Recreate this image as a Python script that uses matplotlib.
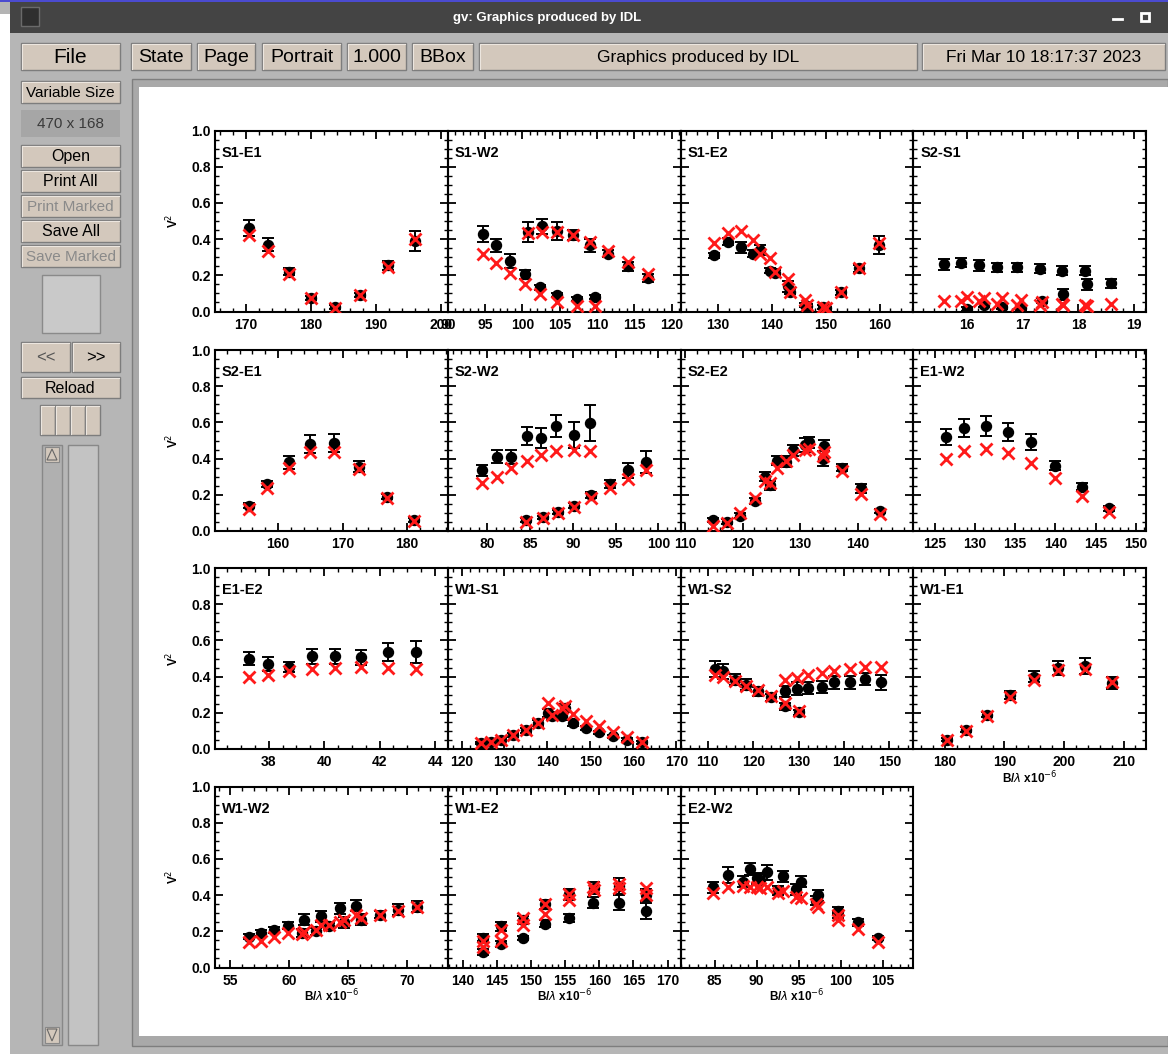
import matplotlib
matplotlib.use("Agg")
import matplotlib.pyplot as plt
from matplotlib.patches import Rectangle, Polygon
from matplotlib.ticker import FixedLocator, MultipleLocator

# --- data: squared visibilities (black) and model (red) per baseline ---
s1e1_x = [170.4, 173.3, 176.6, 180.0, 183.7, 187.6, 191.9, 196.1]
s1e1_v2 = [0.46, 0.37, 0.22, 0.075, 0.025, 0.09, 0.255, 0.39]
s1e1_err = [0.045, 0.035, 0.02, 0.01, 0.01, 0.012, 0.025, 0.055]
s1e1_mod = [0.42, 0.335, 0.205, 0.075, 0.02, 0.09, 0.248, 0.40]

s1w2_x = [94.7, 96.4, 98.3, 100.3, 102.4, 104.7, 107.3, 109.7,
          100.7, 102.6, 104.7, 106.8, 109.1, 111.5, 114.2, 116.8]
s1w2_v2 = [0.43, 0.365, 0.28, 0.205, 0.133, 0.09, 0.068, 0.08,
           0.44, 0.47, 0.445, 0.423, 0.365, 0.32, 0.25, 0.185]
s1w2_err = [0.045, 0.035, 0.04, 0.025, 0.015, 0.012, 0.01, 0.012,
            0.055, 0.04, 0.05, 0.03, 0.035, 0.02, 0.025, 0.02]
s1w2_mod = [0.32, 0.27, 0.21, 0.15, 0.096, 0.054, 0.028, 0.03,
            0.433, 0.44, 0.44, 0.423, 0.386, 0.335, 0.275, 0.207]

s1e2_x = [129.3, 131.8, 134.3, 136.5, 137.8, 139.6, 140.6, 143.0,
          143.4, 146.2, 146.6, 149.4, 150.1, 152.8, 156.2, 159.9]
s1e2_v2 = [0.31, 0.385, 0.355, 0.32, 0.34, 0.225, 0.215, 0.14,
           0.11, 0.035, 0.03, 0.026, 0.017, 0.105, 0.238, 0.368]
s1e2_err = [0.015, 0.02, 0.03, 0.02, 0.03, 0.015, 0.015, 0.03,
            0.015, 0.012, 0.01, 0.01, 0.01, 0.012, 0.02, 0.05]
s1e2_mod = [0.38, 0.432, 0.442, 0.396, 0.32, 0.298, 0.218, 0.178,
            0.11, 0.063, 0.035, 0.026, 0.017, 0.105, 0.238, 0.377]

s2s1_x = [15.58, 15.88, 16.21, 16.54, 16.9, 17.3, 17.7, 18.12, 18.59,
          16.0, 16.3, 16.63, 16.96, 17.34, 17.73, 18.16]
s2s1_v2 = [0.26, 0.27, 0.255, 0.245, 0.245, 0.235, 0.225, 0.225, 0.155,
           0.015, 0.035, 0.025, 0.02, 0.06, 0.095, 0.15]
s2s1_err = [0.03, 0.025, 0.03, 0.025, 0.025, 0.025, 0.025, 0.025, 0.025,
            0.01, 0.012, 0.01, 0.01, 0.015, 0.03, 0.03]
s2s1_mod = [0.057, 0.057, 0.057, 0.044, 0.035, 0.035, 0.04, 0.035, 0.04,
            0.081, 0.076, 0.072, 0.063, 0.05, 0.035, 0.03]

s2e1_x = [155.4, 158.3, 161.6, 165.0, 168.6, 172.6, 176.8, 181.1]
s2e1_v2 = [0.14, 0.26, 0.38, 0.48, 0.484, 0.355, 0.19, 0.06]
s2e1_err = [0.012, 0.015, 0.035, 0.05, 0.05, 0.03, 0.015, 0.012]
s2e1_mod = [0.12, 0.235, 0.35, 0.435, 0.435, 0.345, 0.185, 0.055]

s2w2_x = [79.4, 81.1, 82.8, 84.6, 86.3, 88.1, 90.1, 92.0,
          84.5, 86.5, 88.3, 90.2, 92.1, 94.3, 96.4, 98.5]
s2w2_v2 = [0.335, 0.41, 0.41, 0.525, 0.512, 0.58, 0.53, 0.595,
           0.06, 0.075, 0.105, 0.14, 0.2, 0.26, 0.335, 0.38]
s2w2_err = [0.03, 0.035, 0.04, 0.05, 0.055, 0.06, 0.07, 0.1,
            0.01, 0.01, 0.012, 0.015, 0.015, 0.02, 0.04, 0.06]
s2w2_mod = [0.263, 0.30, 0.346, 0.385, 0.42, 0.44, 0.45, 0.44,
            0.05, 0.07, 0.1, 0.135, 0.185, 0.235, 0.285, 0.335]

s2e2_x = [114.9, 117.2, 119.6, 122.2, 123.8, 124.7, 126.0, 127.6,
          128.8, 130.8, 131.6, 133.9, 134.1, 137.3, 140.6, 143.9]
s2e2_v2 = [0.061, 0.052, 0.085, 0.166, 0.30, 0.254, 0.389, 0.383,
           0.447, 0.475, 0.49, 0.40, 0.471, 0.35, 0.236, 0.11]
s2e2_err = [0.01, 0.012, 0.012, 0.015, 0.025, 0.025, 0.025, 0.03,
            0.03, 0.04, 0.03, 0.04, 0.03, 0.02, 0.025, 0.012]
s2e2_mod = [0.028, 0.046, 0.098, 0.184, 0.276, 0.263, 0.35, 0.389,
            0.42, 0.447, 0.453, 0.414, 0.435, 0.33, 0.203, 0.092]

e1w2_x = [126.4, 128.7, 131.4, 134.1, 137.0, 140.0, 143.3, 146.7]
e1w2_v2 = [0.521, 0.571, 0.582, 0.549, 0.49, 0.361, 0.245, 0.125]
e1w2_err = [0.045, 0.05, 0.055, 0.05, 0.045, 0.025, 0.02, 0.012]
e1w2_mod = [0.40, 0.442, 0.453, 0.433, 0.374, 0.295, 0.193, 0.107]

e1e2_x = [37.27, 37.96, 38.73, 39.55, 40.39, 41.31, 42.3, 43.3]
e1e2_v2 = [0.499, 0.47, 0.453, 0.512, 0.512, 0.506, 0.534, 0.534]
e1e2_err = [0.035, 0.04, 0.03, 0.04, 0.04, 0.04, 0.05, 0.06]
e1e2_mod = [0.398, 0.41, 0.429, 0.442, 0.447, 0.451, 0.447, 0.442]

w1s1_x = [124.6, 126.9, 129.2, 131.9, 135.0, 137.9, 140.2, 141.1,
          143.3, 144.2, 145.9, 149.0, 152.1, 155.3, 158.6, 162.1]
w1s1_v2 = [0.033, 0.039, 0.052, 0.079, 0.103, 0.144, 0.199, 0.18,
           0.18, 0.227, 0.144, 0.116, 0.092, 0.07, 0.052, 0.037]
w1s1_err = [0.008, 0.008, 0.008, 0.01, 0.012, 0.015, 0.02, 0.02,
            0.02, 0.02, 0.015, 0.012, 0.01, 0.01, 0.008, 0.008]
w1s1_mod = [0.033, 0.039, 0.052, 0.079, 0.103, 0.144, 0.254, 0.19,
            0.227, 0.24, 0.195, 0.153, 0.125, 0.092, 0.066, 0.04]

w1s2_x = [111.5, 113.4, 116.0, 118.5, 121.1, 123.9, 127.0, 130.1,
          127.0, 129.6, 132.1, 135.1, 137.9, 141.3, 144.7, 148.1]
w1s2_v2 = [0.442, 0.429, 0.383, 0.355, 0.319, 0.285, 0.236, 0.203,
           0.319, 0.333, 0.337, 0.343, 0.368, 0.368, 0.387, 0.368]
w1s2_err = [0.045, 0.04, 0.03, 0.03, 0.025, 0.02, 0.02, 0.015,
            0.03, 0.035, 0.035, 0.035, 0.035, 0.035, 0.035, 0.04]
w1s2_mod = [0.41, 0.398, 0.374, 0.35, 0.324, 0.291, 0.254, 0.208,
            0.38, 0.392, 0.407, 0.42, 0.433, 0.442, 0.453, 0.453]

w1e1_x = [180.3, 183.6, 187.1, 190.9, 195.0, 199.0, 203.5, 208.1]
w1e1_v2 = [0.052, 0.107, 0.19, 0.298, 0.40, 0.447, 0.457, 0.365]
w1e1_err = [0.01, 0.012, 0.015, 0.02, 0.03, 0.04, 0.045, 0.035]
w1e1_mod = [0.048, 0.098, 0.184, 0.285, 0.38, 0.438, 0.442, 0.368]

w1w2_x = [56.57, 57.57, 58.71, 59.94, 61.29, 61.14, 62.29, 62.71,
          63.43, 64.29, 64.71, 65.66, 66.14, 67.71, 69.29, 70.86]
w1w2_v2 = [0.171, 0.19, 0.208, 0.232, 0.263, 0.19, 0.2, 0.282,
           0.227, 0.328, 0.25, 0.341, 0.263, 0.291, 0.319, 0.337]
w1w2_err = [0.015, 0.015, 0.015, 0.02, 0.03, 0.02, 0.02, 0.03,
            0.02, 0.03, 0.03, 0.03, 0.03, 0.02, 0.03, 0.03]
w1w2_mod = [0.14, 0.149, 0.166, 0.19, 0.195, 0.185, 0.208, 0.236,
            0.236, 0.254, 0.26, 0.291, 0.276, 0.291, 0.31, 0.337]

w1e2_x = [143.0, 143.0, 145.65, 145.65, 148.8, 148.8, 152.0, 152.0,
          155.6, 155.6, 159.0, 159.2, 162.9, 162.9, 166.9, 166.9]
w1e2_v2 = [0.165, 0.085, 0.227, 0.131, 0.162, 0.263, 0.241, 0.35,
           0.273, 0.405, 0.359, 0.44, 0.359, 0.45, 0.313, 0.40]
w1e2_err = [0.02, 0.015, 0.025, 0.015, 0.012, 0.02, 0.02, 0.025,
            0.02, 0.03, 0.03, 0.035, 0.04, 0.045, 0.045, 0.035]
w1e2_mod = [0.145, 0.115, 0.208, 0.144, 0.236, 0.273, 0.295, 0.35,
            0.374, 0.405, 0.447, 0.43, 0.46, 0.438, 0.438, 0.40]

e2w2_x = [84.8, 86.6, 88.4, 89.2, 90.0, 90.4, 91.2, 92.5, 93.1,
          94.7, 95.3, 97.3, 97.1, 99.7, 99.7, 102.1, 104.4]
e2w2_v2 = [0.442, 0.512, 0.475, 0.545, 0.494, 0.486, 0.525, 0.424, 0.503,
           0.433, 0.475, 0.40, 0.368, 0.313, 0.29, 0.25, 0.162]
e2w2_err = [0.03, 0.045, 0.03, 0.035, 0.03, 0.03, 0.04, 0.025, 0.03,
            0.03, 0.03, 0.03, 0.025, 0.02, 0.015, 0.02, 0.012]
e2w2_mod = [0.414, 0.442, 0.453, 0.447, 0.447, 0.438, 0.447, 0.41, 0.424,
            0.387, 0.383, 0.337, 0.35, 0.263, 0.29, 0.212, 0.14]

baselines = ["S1-E1", "S1-W2", "S1-E2", "S2-S1",
             "S2-E1", "S2-W2", "S2-E2", "E1-W2",
             "E1-E2", "W1-S1", "W1-S2", "W1-E1",
             "W1-W2", "W1-E2", "E2-W2"]
series = [
    (s1e1_x, s1e1_v2, s1e1_err, s1e1_mod), (s1w2_x, s1w2_v2, s1w2_err, s1w2_mod),
    (s1e2_x, s1e2_v2, s1e2_err, s1e2_mod), (s2s1_x, s2s1_v2, s2s1_err, s2s1_mod),
    (s2e1_x, s2e1_v2, s2e1_err, s2e1_mod), (s2w2_x, s2w2_v2, s2w2_err, s2w2_mod),
    (s2e2_x, s2e2_v2, s2e2_err, s2e2_mod), (e1w2_x, e1w2_v2, e1w2_err, e1w2_mod),
    (e1e2_x, e1e2_v2, e1e2_err, e1e2_mod), (w1s1_x, w1s1_v2, w1s1_err, w1s1_mod),
    (w1s2_x, w1s2_v2, w1s2_err, w1s2_mod), (w1e1_x, w1e1_v2, w1e1_err, w1e1_mod),
    (w1w2_x, w1w2_v2, w1w2_err, w1w2_mod), (w1e2_x, w1e2_v2, w1e2_err, w1e2_mod),
    (e2w2_x, e2w2_v2, e2w2_err, e2w2_mod),
]

# x axis ticks (labels) per panel
xticks = [[170, 180, 190, 200], [90, 95, 100, 105, 110, 115, 120],
          [130, 140, 150, 160], [16, 17, 18, 19],
          [160, 170, 180], [80, 85, 90, 95, 100],
          [110, 120, 130, 140], [125, 130, 135, 140, 145, 150],
          [38, 40, 42, 44], [120, 130, 140, 150, 160, 170],
          [110, 120, 130, 140, 150], [180, 190, 200, 210],
          [55, 60, 65, 70], [140, 145, 150, 155, 160, 165, 170],
          [85, 90, 95, 100, 105]]
yticks = [0.0, 0.2, 0.4, 0.6, 0.8, 1.0]

# axis ranges / minor tick steps (layout)
xlims = [(165.2, 201.1), (90.0, 121.2), (123.0, 166.3), (15.03, 19.22),
         (150.2, 186.3), (75.4, 102.6), (109.2, 149.7), (122.35, 151.3),
         (36.06, 44.46), (116.8, 171.0), (104.0, 155.3), (174.7, 213.8),
         (53.7, 73.5), (137.8, 171.9), (80.95, 108.65)]
xminor = [2, 1, 2, 0.2, 2, 1, 2, 1, 0.5, 2, 2, 2, 1, 1, 1]

W, H = 1168, 1054
fig = plt.figure(figsize=(W / 100, H / 100), dpi=100)
fig.patch.set_facecolor("white")

# ---------- window chrome ----------
bg = fig.add_axes([0, 0, 1, 1])
bg.set_xlim(0, W)
bg.set_ylim(H, 0)
bg.axis("off")

GUI_FONT = ["Liberation Sans", "DejaVu Sans"]
BTN_FC = "#d3c8bc"


def rect(x0, y0, x1, y1, fc, ec="none", lw=1.0):
    bg.add_patch(Rectangle((x0, y0), x1 - x0, y1 - y0, fc=fc, ec=ec, lw=lw))


def button(x0, y0, x1, y1, label, size, color="black"):
    rect(x0, y0, x1, y1, BTN_FC, "#7d7d7d", 1.0)
    bg.plot([x0 + 1, x0 + 1, x1 - 1], [y1 - 1, y0 + 1, y0 + 1], color="#ece6df", lw=0.8)
    if label:
        bg.text((x0 + x1) / 2, (y0 + y1) / 2 + 1, label, ha="center", va="center",
                fontsize=size, color=color, family=GUI_FONT)


rect(0, 0, W, H, "white")
rect(0, 0, 10, 14, "#b4b4b4")
rect(10, 2, W, H, "#b6b6b6")
rect(0, 0, W, 2, "#4b4bd0")
rect(10, 2, W, 33, "#444444")
rect(21, 7, 39, 26, "#2f2f2f", "#6a6a6a", 1.0)
bg.text(547, 18, "gv: Graphics produced by IDL", ha="center", va="center",
        color="white", fontsize=9.5, fontweight="bold",
        family=["Liberation Sans Narrow", "Liberation Sans", "DejaVu Sans"])
bg.plot([1113, 1122], [19, 19], color="white", lw=2)
rect(1141, 13, 1149, 21, "none", "white", 2)

# top buttons
button(21, 43, 120, 70, "File", 15)
button(131, 43, 191, 70, "State", 14)
button(197, 43, 255, 70, "Page", 14)
button(262, 43, 341, 70, "Portrait", 14)
button(347, 43, 406, 70, "1.000", 14)
button(412, 43, 473, 70, "BBox", 14)
button(479, 43, 917, 70, "Graphics produced by IDL", 12.5)
button(922, 43, 1165, 70, "Fri Mar 10 18:17:37 2023", 12.5)

# left column
button(21, 81, 120, 103, "Variable Size", 11)
rect(21, 110, 120, 137, "#a6a6a6")
bg.text(70.5, 124, "470 x 168", ha="center", va="center", fontsize=11,
        color="#3a3a3a", family=GUI_FONT)
button(21, 145, 120, 167, "Open", 11.5)
button(21, 170, 120, 192, "Print All", 11.5)
button(21, 195, 120, 217, "Print Marked", 11, color="#8a8a8a")
button(21, 220, 120, 242, "Save All", 11.5)
button(21, 245, 120, 267, "Save Marked", 11, color="#8a8a8a")
rect(42, 275, 100, 333, "#c9c9c9", "#8a8a8a", 1.0)
button(21, 342, 70, 372, "<<", 12, color="#555555")
button(72, 342, 120, 372, ">>", 12)
button(21, 377, 120, 398, "Reload", 11.5)
for bx in (40, 55, 70, 85):
    button(bx, 405, bx + 15, 435, "", 8)
rect(42, 445, 62, 1045, "#b0b0b0", "#888888", 1.0)
rect(45, 447, 59, 462, BTN_FC, "#888888", 0.8)
bg.add_patch(Polygon([[47, 460], [52, 449], [57, 460]], closed=True,
                     fc="none", ec="#666666", lw=0.8))
rect(45, 1027, 59, 1043, BTN_FC, "#888888", 0.8)
bg.add_patch(Polygon([[47, 1029], [52, 1041], [57, 1029]], closed=True,
                     fc="none", ec="#666666", lw=0.8))
rect(68, 445, 98, 1045, "#c3c3c3", "#888888", 1.0)

# page area
rect(132, 79, W, 1046, "#a9a9a9", "#7e7e7e", 1.0)
rect(139, 87, W, 1036, "white")

# ---------- plot panels ----------
plt.rcParams["font.family"] = ["Liberation Sans", "DejaVu Sans"]

col_left = [215.0, 447.8, 680.6, 913.4]
row_top = [130.5, 350.0, 568.0, 786.5]
pw, ph = 232.8, 181.0

for i, name in enumerate(baselines):
    r, c = divmod(i, 4)
    x0, y0 = col_left[c], row_top[r]
    ax = fig.add_axes([x0 / W, 1 - (y0 + ph) / H, pw / W, ph / H])
    ax.set_facecolor("none")
    bx, bv, be, bm = series[i]

    ax.errorbar(bx, bv, yerr=be, fmt="o", color="black", ms=7.2,
                elinewidth=1.4, capsize=4.3, capthick=1.4, zorder=3)
    ax.plot(bx, bm, "x", color="#ff1a1a", ms=8.0, mew=2.0, zorder=4)

    ax.set_xlim(*xlims[i])
    ax.set_ylim(0.0, 1.0)
    ax.xaxis.set_major_locator(FixedLocator(xticks[i]))
    ax.xaxis.set_minor_locator(MultipleLocator(xminor[i]))
    ax.yaxis.set_major_locator(FixedLocator(yticks))
    ax.yaxis.set_minor_locator(MultipleLocator(0.05))
    ax.set_xticklabels([str(t) for t in xticks[i]])
    ax.set_yticklabels([f"{t:.1f}" for t in yticks])

    ax.tick_params(which="both", direction="in", top=True, right=True,
                   labelsize=10, pad=4.5)
    ax.tick_params(which="major", length=6, width=1.3)
    ax.tick_params(which="minor", length=3, width=1.0)
    ax.tick_params(axis="y", labelleft=(c == 0), pad=3)
    for lab in ax.get_xticklabels() + ax.get_yticklabels():
        lab.set_fontweight("bold")
    for sp in ax.spines.values():
        sp.set_linewidth(1.5)

    ax.text(0.03, 0.878, name, transform=ax.transAxes, ha="left", va="center",
            fontsize=10.5, fontweight="bold")

    if c == 0:
        ax.text(-0.18, 0.5, "V$^2$", transform=ax.transAxes, rotation=90,
                ha="center", va="center", fontsize=8.5, fontweight="bold")
    if r == 3 or name == "W1-E1":
        ax.text(0.5, -0.16, r"B/$\lambda$ x10$^{-6}$", transform=ax.transAxes,
                ha="center", va="center", fontsize=8.5, fontweight="bold")

fig.savefig("out.png", dpi=100)
